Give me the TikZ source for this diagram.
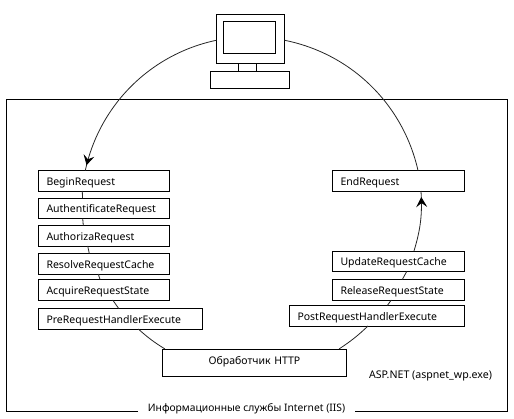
\documentclass[tikz,border=0pt]{standalone}
\usepackage{fontspec}
\setmainfont{Noto Sans}
\usetikzlibrary{arrows.meta, decorations.markings}

\begin{document}
\begin{tikzpicture}[x=1pt, y=-1pt,
    stagebox/.style={draw, line width=1pt, outer sep=0pt, anchor=north west, inner xsep=8pt, inner ysep=0pt,
        minimum height=20.5pt, text height=9pt, text depth=0pt, align=left, font=\fontsize{10.5pt}{12pt}\selectfont},
    hardbox/.style={draw, line width=1pt, outer sep=0pt, anchor=north west, inner sep=0pt},
    flow/.style={line width=0.8pt, draw=black!85},
    flowtip/.style={postaction={decorate, decoration={markings,
        mark=at position #1 with {\arrow[black]{Stealth[length=10pt, width=11pt, inset=4pt]}}}}},
    plain/.style={font=\fontsize{10.3pt}{12pt}\selectfont, inner sep=0pt, text height=9pt, text depth=0pt}]
    \useasboundingbox (0, 0) rectangle (514, 418);

    % IIS frame, open at the bottom for its caption
    \draw[line width=1pt] (138, 411) -| (6, 99) -| (507, 411) -- (355, 411);
    \node[plain] (iis) at (246.5, 406.5) {Информационные службы Internet (IIS)};
    \node[plain, font=\fontsize{10.6pt}{12pt}\selectfont] (aspnet) at (430.5, 374) {ASP.NET (aspnet\_wp.exe)};

    % computer
    \node[hardbox, minimum width=68pt, minimum height=48.5pt] (monitor) at (216.5, 14.5) {};
    \node[hardbox, minimum width=52.5pt, minimum height=31.5pt] (screen) at (223, 21.5) {};
    \node[hardbox, minimum width=18.5pt, minimum height=8pt] (neck) at (238, 63) {};
    \node[hardbox, minimum width=79pt, minimum height=17.5pt] (keyboard) at (210.5, 71) {};

    % left column
    \node[stagebox, text width=115pt] (begin) at (38.5, 170.5) {BeginRequest};
    \node[stagebox, text width=115pt] (authent) at (38.5, 198) {AuthentificateRequest};
    \node[stagebox, text width=115pt] (authoriz) at (38.5, 225.5) {AuthorizaRequest};
    \node[stagebox, text width=115pt] (resolve) at (38.5, 253.5) {ResolveRequestCache};
    \node[stagebox, text width=115pt] (acquire) at (38.5, 279.5) {AcquireRequestState};
    \node[stagebox, text width=148pt] (prehandler) at (38.5, 308.5) {PreRequestHandlerExecute};

    % right column
    \node[stagebox, text width=116pt] (end) at (332.5, 170.5) {EndRequest};
    \node[stagebox, text width=116pt] (update) at (332.5, 251) {UpdateRequestCache};
    \node[stagebox, text width=116pt] (release) at (332.5, 279.5) {ReleaseRequestState};
    \node[stagebox, text width=159pt] (posthandler) at (289.5, 305.5) {PostRequestHandlerExecute};

    \node[stagebox, text width=168pt, align=center, minimum height=27pt, text height=3pt] (handler) at (162.5, 349) {Обработчик HTTP};

    % the request going round
    \draw[flow, flowtip=0.972] ([yshift=-1.5pt]monitor.west) to[bend right=33, looseness=0.93] ([xshift=46.8pt]begin.north west);
    \draw[flow] ([xshift=43.8pt]begin.south west) -- ([xshift=44pt]authent.north west);
    \draw[flow] ([xshift=44.2pt]authent.south west) -- ([xshift=44.8pt]authoriz.north west);
    \draw[flow] ([xshift=49.2pt]authoriz.south west) -- ([xshift=50.8pt]resolve.north west);
    \draw[flow] ([xshift=59.8pt]resolve.south west) -- ([xshift=61.5pt]acquire.north west);
    \draw[flow] ([xshift=74.2pt]acquire.south west) -- ([xshift=80.2pt]prehandler.north west);
    \draw[flow] ([xshift=99.8pt]prehandler.south west) to[bend right=5] ([xshift=2.5pt]handler.north west);
    \draw[flow] ([xshift=176.5pt]handler.north west) to[bend right=5] ([xshift=78.5pt]posthandler.south west);
    \draw[flow] ([xshift=97.8pt]posthandler.north west) -- ([xshift=58.8pt]release.south west);
    \draw[flow] ([xshift=69.8pt]release.north west) -- ([xshift=74.2pt]update.south west);
    \draw[flow, flowtip=0.9] ([xshift=81.5pt]update.north west) to[bend right=10] ([xshift=88.5pt]end.south west);
    \draw[flow] ([xshift=85.5pt]end.north west) to[bend right=33, looseness=0.93] ([yshift=-1.5pt]monitor.east);
\end{tikzpicture}
\end{document}
